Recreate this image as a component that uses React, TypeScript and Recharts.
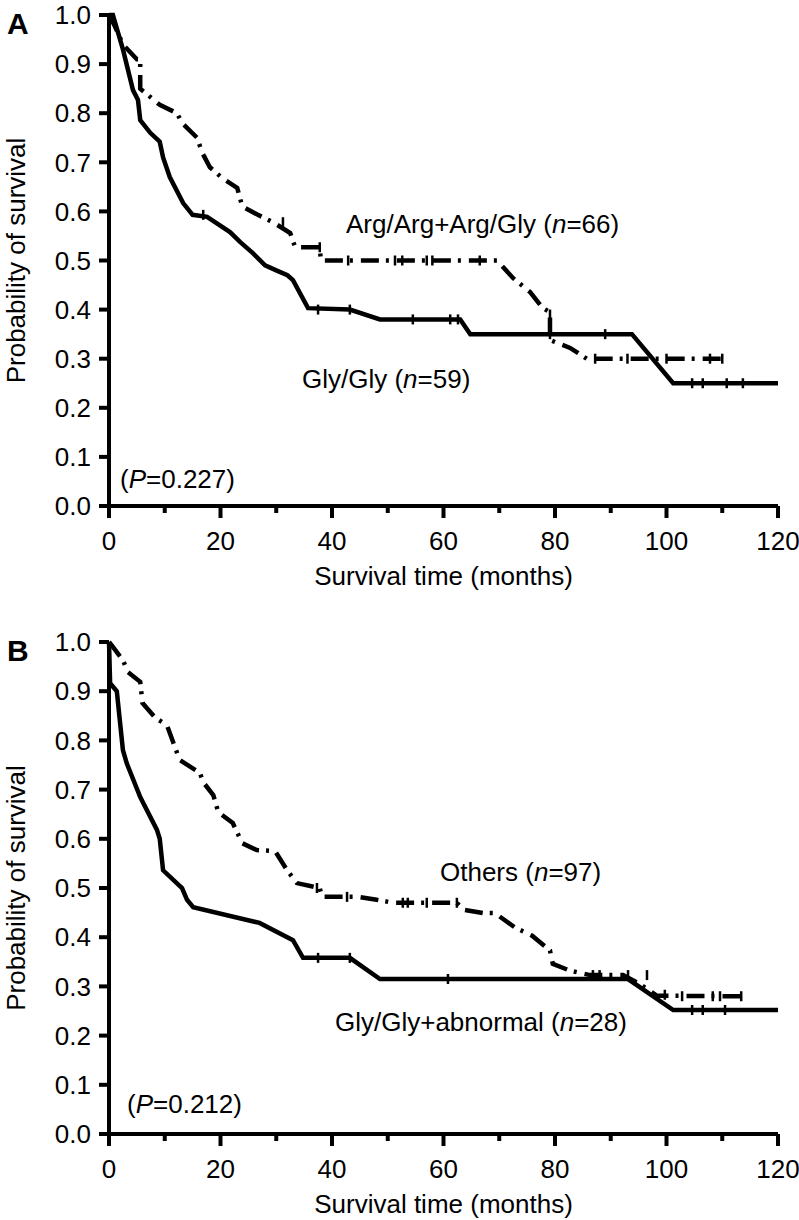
import React from "react";
import { ComposedChart, Line, Scatter, XAxis, YAxis } from "recharts";

const FONT = '"Liberation Sans", Arial, Helvetica, sans-serif';

// x ticks every 10 months, labels only on multiples of 20
const monthTicks = [0, 10, 20, 30, 40, 50, 60, 70, 80, 90, 100, 110, 120];
const probTicks = [0, 0.1, 0.2, 0.3, 0.4, 0.5, 0.6, 0.7, 0.8, 0.9, 1.0];

// Panel A: Gly/Gly (n=59), solid
const glyMonths = [0, 0.7, 2.5, 4.3, 5.2, 5.6, 7.4, 9.1, 9.7, 10.9, 13.3, 15, 17.6, 21.7, 23.5, 25.8, 28, 30, 32, 33, 35.7, 43.2, 48.6, 63, 64.8, 93.8, 101.2, 120];
const glySurv = [1, 1, 0.93, 0.847, 0.827, 0.786, 0.76, 0.742, 0.71, 0.67, 0.617, 0.593, 0.589, 0.558, 0.538, 0.515, 0.49, 0.48, 0.47, 0.46, 0.403, 0.4, 0.38, 0.38, 0.35, 0.35, 0.25, 0.25];
const glyCensMonths = [16.9, 37.5, 43.2, 54.5, 61.2, 62.6, 79.1, 89, 104.6, 106.5, 110.8, 113.7];
const glyCensSurv = [0.593, 0.4, 0.4, 0.38, 0.38, 0.38, 0.35, 0.35, 0.25, 0.25, 0.25, 0.25];

// Panel A: Arg/Arg+Arg/Gly (n=66), dashed
const argMonths = [0, 1.1, 2.5, 5, 5.6, 5.6, 9.1, 12.2, 13.1, 15.8, 16.7, 18.1, 20.3, 23, 23.9, 26.7, 29.4, 32.5, 33.4, 37.8, 38, 67, 69.6, 72.5, 75.5, 77.8, 79.1, 79.1, 82.7, 85.7, 110];
const argSurv = [1, 0.976, 0.94, 0.91, 0.91, 0.85, 0.817, 0.8, 0.78, 0.75, 0.72, 0.69, 0.668, 0.648, 0.61, 0.593, 0.578, 0.556, 0.527, 0.527, 0.5, 0.5, 0.5, 0.464, 0.436, 0.403, 0.395, 0.338, 0.322, 0.3, 0.3];
const argCensMonths = [31.2, 37.8, 42.9, 51.3, 52.6, 57, 58, 66.5, 79.1, 87.2, 93, 100, 107.8, 110];
const argCensSurv = [0.578, 0.527, 0.5, 0.5, 0.5, 0.5, 0.5, 0.5, 0.39, 0.3, 0.3, 0.3, 0.3, 0.3];

// Panel B: Gly/Gly+abnormal (n=28), solid
const abnMonths = [0, 0.2, 1.4, 2.5, 3.2, 5.6, 8.6, 9.1, 9.7, 13.1, 14, 15.1, 27, 33, 34.8, 43.2, 48.6, 93.1, 101.2, 120];
const abnSurv = [1, 0.916, 0.9, 0.78, 0.753, 0.685, 0.618, 0.6, 0.536, 0.5, 0.476, 0.461, 0.429, 0.394, 0.358, 0.358, 0.315, 0.315, 0.252, 0.252];
const abnCensMonths = [37.5, 43.2, 60.8, 104.6, 106.5, 110.5];
const abnCensSurv = [0.358, 0.358, 0.315, 0.252, 0.252, 0.252];

// Panel B: Others (n=97), dashed
const othMonths = [0, 0.7, 2.5, 3.4, 5.6, 6, 8.3, 10.4, 11.8, 12.7, 16.3, 16.9, 18.7, 19.6, 22.2, 23.9, 26.5, 29.8, 31.9, 33.7, 37.8, 38.2, 42.9, 44.7, 48, 51, 60.6, 62.4, 63.5, 67.1, 69.2, 72.8, 75.9, 79.1, 79.6, 82.7, 86.3, 89, 92.2, 95.2, 98.3, 113.5];
const othSurv = [1, 0.99, 0.963, 0.939, 0.919, 0.876, 0.846, 0.831, 0.787, 0.76, 0.734, 0.715, 0.689, 0.654, 0.632, 0.591, 0.577, 0.575, 0.537, 0.51, 0.5, 0.482, 0.482, 0.482, 0.476, 0.47, 0.47, 0.47, 0.456, 0.449, 0.449, 0.42, 0.403, 0.373, 0.346, 0.332, 0.323, 0.323, 0.323, 0.305, 0.281, 0.28];
const othCensMonths = [37.3, 42.7, 52.7, 53.6, 57, 62.4, 86.8, 88, 93.1, 96.5, 99.7, 102.8, 108.3, 109.6, 113.4];
const othCensSurv = [0.5, 0.482, 0.47, 0.47, 0.47, 0.47, 0.323, 0.323, 0.323, 0.323, 0.283, 0.28, 0.28, 0.28, 0.28];

const toPoints = (ts: number[], vs: number[]) => ts.map((t, i) => ({ t, v: vs[i] }));

const XTick = (props: any) => {
  const { x, y, payload } = props;
  const major = payload.value % 20 === 0;
  return (
    <g>
      <line x1={x} y1={y} x2={x} y2={y + (major ? 12 : 7)} stroke="#000" strokeWidth={4} />
      {major && (
        <text x={x} y={y + 44} textAnchor="middle" fontSize={26} fill="#000" fontFamily={FONT}>
          {payload.value}
        </text>
      )}
    </g>
  );
};

const CensorTick = (p: any) => (
  <line x1={p.cx} y1={p.cy - 5} x2={p.cx} y2={p.cy + 5} stroke="#000" strokeWidth={2.5} />
);

interface PanelProps {
  height: number;
  margin: { top: number; right: number; bottom: number; left: number };
  solid: { t: number; v: number }[];
  dashed: { t: number; v: number }[];
  solidCens: { t: number; v: number }[];
  dashedCens: { t: number; v: number }[];
}

const SurvivalPanel: React.FC<PanelProps> = ({ height, margin, solid, dashed, solidCens, dashedCens }) => (
  <ComposedChart width={799} height={height} margin={margin}>
    <XAxis
      type="number"
      dataKey="t"
      domain={[0, 120]}
      ticks={monthTicks}
      interval={0}
      height={86}
      tickSize={0}
      tickMargin={0}
      tickLine={false}
      axisLine={{ stroke: "#000", strokeWidth: 4 }}
      tick={<XTick />}
      label={{
        value: "Survival time (months)",
        position: "insideBottom",
        offset: 7,
        style: { fontSize: 26, fill: "#000", fontFamily: FONT },
      }}
    />
    <YAxis
      type="number"
      domain={[0, 1]}
      ticks={probTicks}
      interval={0}
      width={100}
      tickSize={10}
      tickMargin={8}
      tickFormatter={(v: number) => v.toFixed(1)}
      tickLine={{ stroke: "#000", strokeWidth: 4 }}
      axisLine={{ stroke: "#000", strokeWidth: 4 }}
      tick={{ fontSize: 26, fill: "#000", fontFamily: FONT }}
      label={{
        value: "Probability of survival",
        angle: -90,
        position: "insideLeft",
        offset: 7,
        style: { fontSize: 26, fill: "#000", fontFamily: FONT, textAnchor: "middle" },
      }}
    />
    <Line data={dashed} dataKey="v" type="linear" stroke="#000" strokeWidth={4.5} strokeDasharray="18 7 3 8" dot={false} isAnimationActive={false} />
    <Line data={solid} dataKey="v" type="linear" stroke="#000" strokeWidth={4.5} dot={false} isAnimationActive={false} />
    <Scatter data={dashedCens} dataKey="v" shape={CensorTick} isAnimationActive={false} />
    <Scatter data={solidCens} dataKey="v" shape={CensorTick} isAnimationActive={false} />
  </ComposedChart>
);

const App: React.FC = () => {
  return (
    <div style={{ position: "absolute", left: 0, top: 0, width: 799, height: 1220, background: "#fff", fontFamily: FONT }}>
      <div style={{ position: "absolute", left: 0, top: 0 }}>
        <SurvivalPanel
          height={600}
          margin={{ top: 15, right: 21, bottom: 8, left: 9 }}
          solid={toPoints(glyMonths, glySurv)}
          dashed={toPoints(argMonths, argSurv)}
          solidCens={toPoints(glyCensMonths, glyCensSurv)}
          dashedCens={toPoints(argCensMonths, argCensSurv)}
        />
      </div>
      <div style={{ position: "absolute", left: 0, top: 600 }}>
        <SurvivalPanel
          height={620}
          margin={{ top: 42, right: 21, bottom: 0, left: 9 }}
          solid={toPoints(abnMonths, abnSurv)}
          dashed={toPoints(othMonths, othSurv)}
          solidCens={toPoints(abnCensMonths, abnCensSurv)}
          dashedCens={toPoints(othCensMonths, othCensSurv)}
        />
      </div>
      <svg width={799} height={1220} style={{ position: "absolute", left: 0, top: 0, pointerEvents: "none" }} fontFamily={FONT} fill="#000">
        <text x={7} y={34} fontSize={30} fontWeight="bold">A</text>
        <text x={346} y={233} fontSize={26}>
          Arg/Arg+Arg/Gly (<tspan fontStyle="italic">n</tspan>=66)
        </text>
        <text x={302} y={388} fontSize={26}>
          Gly/Gly (<tspan fontStyle="italic">n</tspan>=59)
        </text>
        <text x={120} y={488} fontSize={26}>
          (<tspan fontStyle="italic">P</tspan>=0.227)
        </text>
        <text x={7} y={661} fontSize={30} fontWeight="bold">B</text>
        <text x={440} y={881} fontSize={26}>
          Others (<tspan fontStyle="italic">n</tspan>=97)
        </text>
        <text x={335} y={1031} fontSize={26}>
          Gly/Gly+abnormal (<tspan fontStyle="italic">n</tspan>=28)
        </text>
        <text x={127} y={1113} fontSize={26}>
          (<tspan fontStyle="italic">P</tspan>=0.212)
        </text>
      </svg>
    </div>
  );
};

export default App;
